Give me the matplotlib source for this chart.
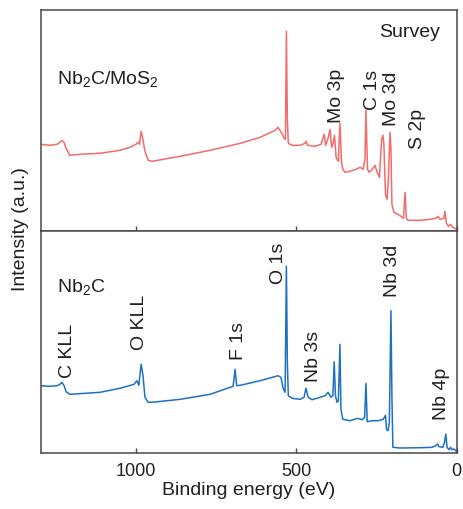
import matplotlib
matplotlib.use("Agg")
import matplotlib.pyplot as plt

plt.rcParams['font.family'] = ['Liberation Sans', 'DejaVu Sans']
plt.rcParams['mathtext.fontset'] = 'custom'
plt.rcParams['mathtext.rm'] = 'Liberation Sans'
plt.rcParams['mathtext.it'] = 'Liberation Sans:italic'
plt.rcParams['mathtext.bf'] = 'Liberation Sans:bold'
plt.rcParams['mathtext.default'] = 'rm'

# ---- Data (binding energy in eV, intensity in a.u.) ----
be_top = [1296, 1268, 1246, 1237, 1231, 1224, 1218, 1206, 1175, 1112, 1050, 1019, 1000,
          994, 989, 984, 979, 972, 962, 950, 862, 769, 675, 613, 566, 557, 551, 544, 538,
          534, 531, 528, 525, 513, 488, 473, 470, 465, 442, 423, 413, 409, 401, 395, 390,
          386, 381, 376, 369, 364, 359, 355, 348, 333, 314, 301, 292, 286, 283, 278, 273,
          261, 255, 249, 241, 234, 230, 227, 222, 217, 213, 208, 205, 202, 196, 183, 174,
          166, 161, 157, 152, 114, 83, 65, 58, 52, 40, 37, 32, 26, 19, 13, 5, 0]
int_top = [87, 86, 87, 89, 91, 89, 83, 76, 77, 78, 81, 84, 87,
           89, 87, 100, 93, 80, 71, 70, 75, 81, 88, 94, 101, 104, 101, 97, 93,
           92, 200, 112, 88, 86, 86, 88, 90, 86, 85, 87, 97, 86, 93, 102, 84,
           87, 96, 74, 70, 108, 69, 62, 59, 60, 62, 64, 62, 72, 121, 62, 59,
           63, 66, 60, 54, 92, 96, 87, 37, 32, 52, 99, 82, 27, 19, 17, 15,
           13, 39, 13, 11, 11, 12, 13, 15, 12, 13, 20, 8, 5, 7, 4, 3, 2]

be_bot = [1296, 1268, 1246, 1237, 1231, 1224, 1218, 1206, 1112, 1050, 1006, 997, 991,
          984, 978, 972, 962, 950, 862, 769, 697, 691, 686, 675, 613, 557, 548, 541,
          535, 531, 528, 525, 513, 488, 476, 470, 463, 451, 426, 410, 401, 392, 386,
          382, 378, 373, 369, 364, 361, 355, 333, 308, 295, 287, 283, 279, 264, 245,
          229, 222, 219, 214, 210, 205, 202, 199, 177, 114, 77, 65, 60, 55, 43, 38,
          34, 30, 24, 19, 15, 8, 0]
int_bot = [67.6, 67, 67.6, 69, 71, 67.6, 61.6, 59, 61, 65, 69, 72.6, 68,
           89, 77.6, 56, 51, 51, 54, 59, 67, 84, 67.6, 68, 72.6, 77.6, 76, 65,
           61, 187, 91, 57.6, 55, 54, 56, 65, 56, 53.6, 56, 57.6, 61, 56, 57.6,
           91.6, 57.6, 51, 52.6, 109, 44, 34, 32.6, 35, 33.6, 36, 70, 31.6, 32.6, 32.6,
           34, 38, 24, 22.6, 31, 142.6, 57.6, 6, 5.3, 5.6, 6, 7.6, 9.3, 6.6, 6, 11,
           19.3, 6, 3.6, 6, 3.6, 4.3, 1.6]

top_peaks = ["Mo 3p", "C 1s", "Mo 3d", "S 2p"]
top_peak_be = [374, 262, 202, 121]
top_peak_y = [109, 122, 106, 83]

bot_peaks = ["C KLL", "O KLL", "F 1s", "O 1s", "Nb 3s", "Nb 3d", "Nb 4p"]
bot_peak_be = [1212, 988, 679, 557, 448, 199, 46]
bot_peak_y = [76, 104, 94, 170, 72, 157, 34]

xticks = [1000, 500, 0]

red = '#F36B6B'
blue = '#1C72C2'
spine_c = '#4d4848'
txt_c = '#231f20'

fig = plt.figure(figsize=(4.63, 5.10), dpi=100)
ax_top = fig.add_axes([0.0886, 0.5445, 0.8978, 0.4345])
ax_bot = fig.add_axes([0.0886, 0.1092, 0.8978, 0.4353])

ax_top.plot(be_top, int_top, color=red, lw=1.1)
ax_bot.plot(be_bot, int_bot, color=blue, lw=1.1)

for ax, ylim in ((ax_top, 221.6), (ax_bot, 222)):
    ax.set_xlim(1296, 0)
    ax.set_ylim(0, ylim)
    ax.set_yticks([])
    ax.set_xticks(xticks)
    ax.tick_params(axis='x', direction='in', length=3.5, width=1.0, color=spine_c,
                   labelsize=13, labelcolor=txt_c, pad=6)
    for s in ax.spines.values():
        s.set_color(spine_c)
        s.set_linewidth(1.1)

ax_top.tick_params(axis='x', labelbottom=False)
ax_bot.set_xlabel('Binding energy (eV)', fontsize=14, color=txt_c, labelpad=2)

ax_top.text(0.96, 0.90, 'Survey', transform=ax_top.transAxes, ha='right', va='center',
            fontsize=14, color=txt_c)
ax_top.text(0.038, 0.69, 'Nb$_2$C/MoS$_2$', transform=ax_top.transAxes, ha='left',
            va='center', fontsize=14, color=txt_c)
ax_bot.text(0.038, 0.755, 'Nb$_2$C', transform=ax_bot.transAxes, ha='left',
            va='center', fontsize=14, color=txt_c)

for name, x, y in zip(top_peaks, top_peak_be, top_peak_y):
    ax_top.text(x, y, name, rotation=90, ha='center', va='bottom', fontsize=14, color=txt_c)
for name, x, y in zip(bot_peaks, bot_peak_be, bot_peak_y):
    ax_bot.text(x, y, name, rotation=90, ha='center', va='bottom', fontsize=14, color=txt_c)

fig.text(0.045, 0.551, 'Intensity (a.u.)', rotation=90, ha='center', va='center',
         fontsize=14, color=txt_c)

fig.savefig('out.png', dpi=100)
